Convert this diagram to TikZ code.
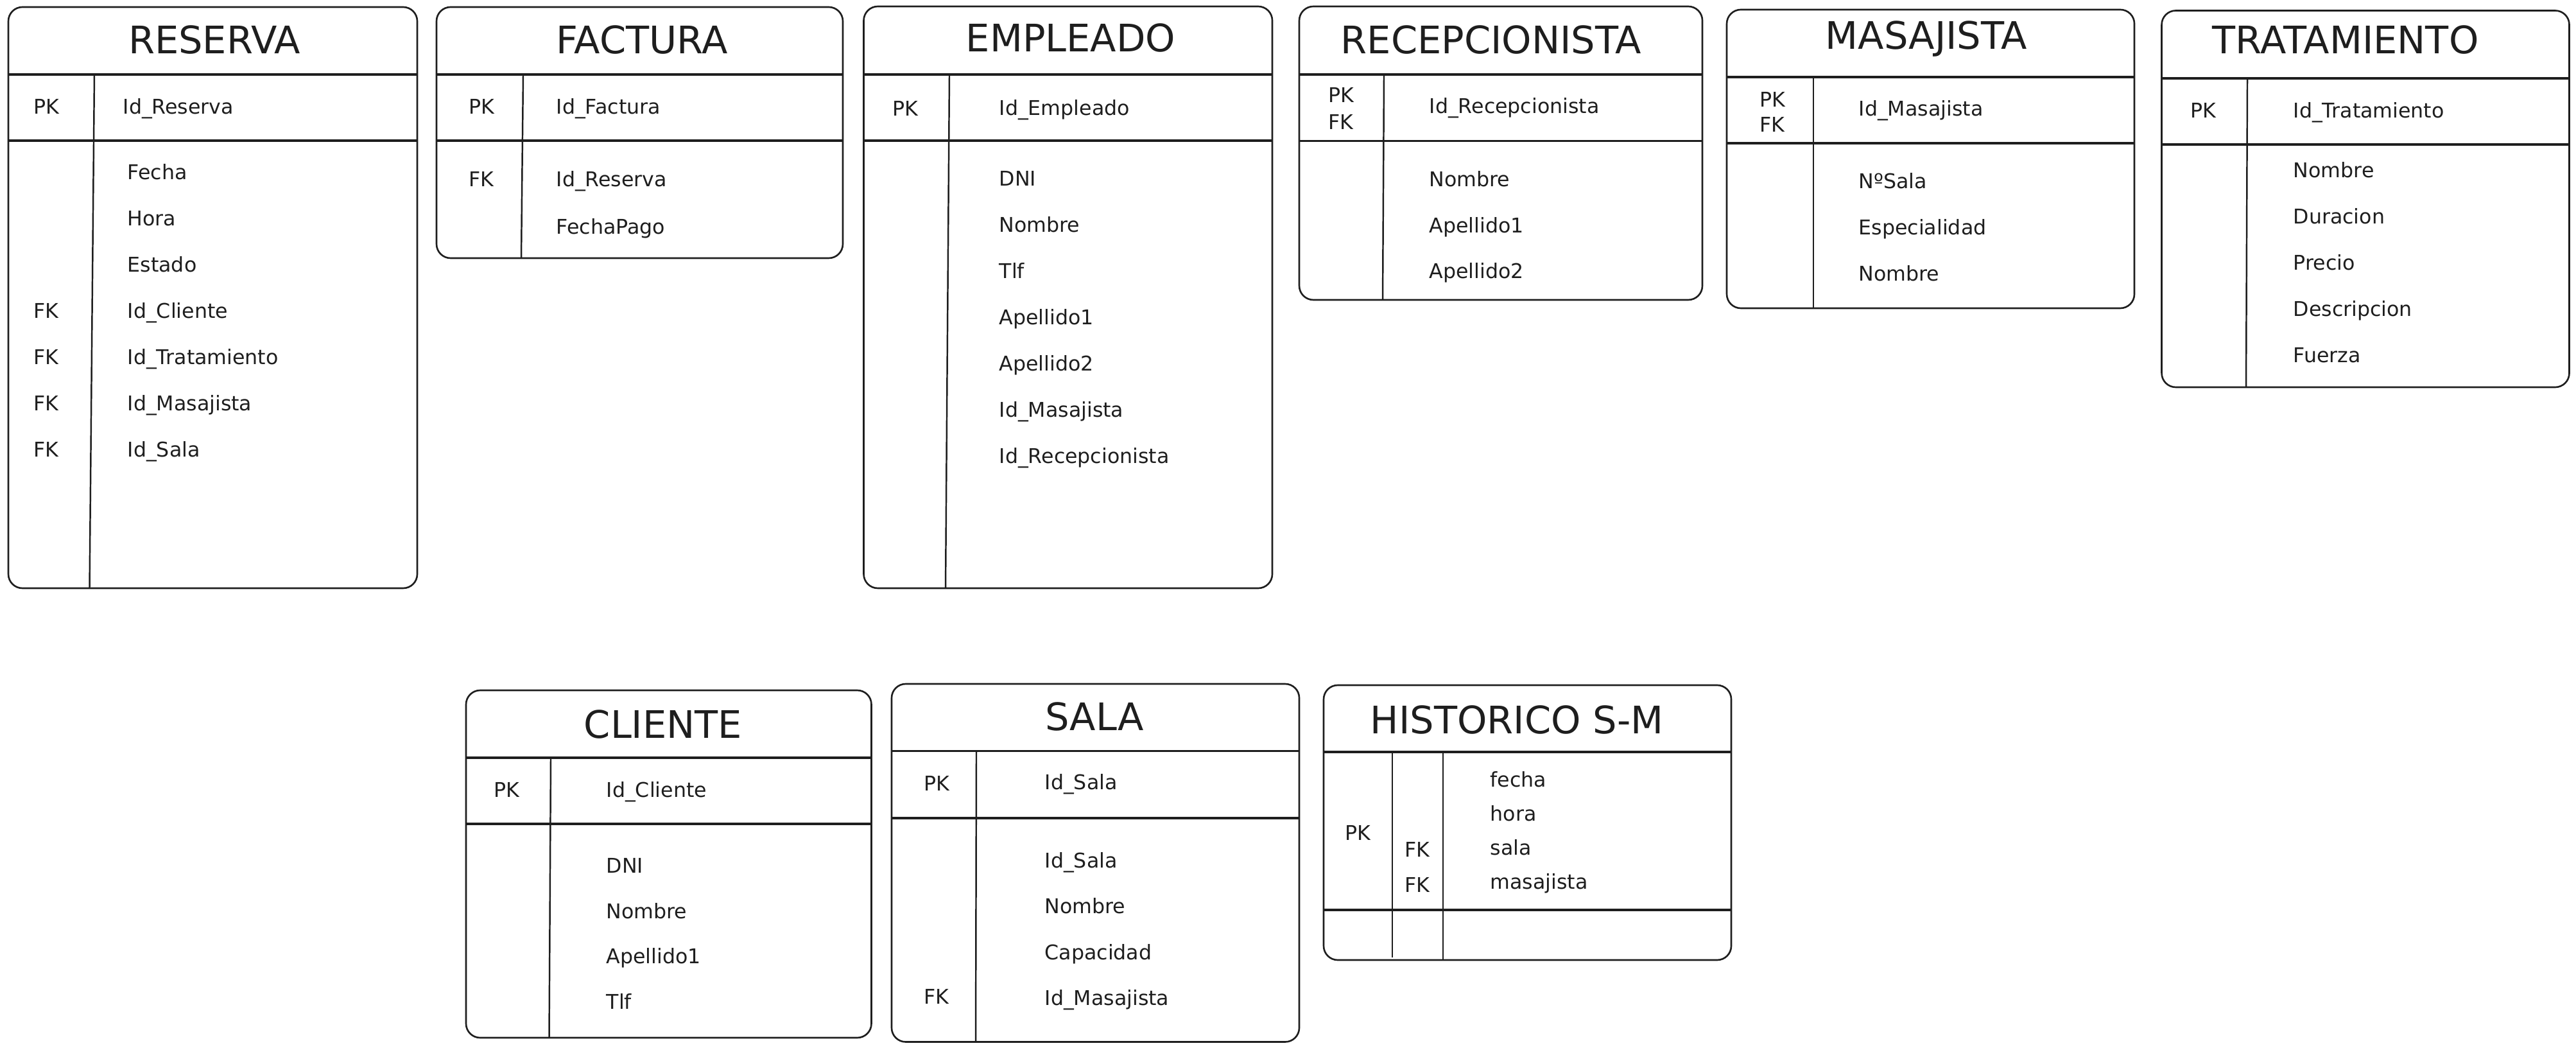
\documentclass[tikz,border=0pt]{standalone}
\usepackage{fontspec}
\setmainfont{DejaVu Sans}
\definecolor{tinta}{HTML}{1E1E1E}

\begin{document}
\begin{tikzpicture}[
  tabla/.style={draw=tinta, line width=0.75pt, rectangle, rounded corners=0.22cm, inner sep=0pt},
  titulo/.style={text=tinta, font=\fontsize{16.8}{20}\selectfont},
  clave/.style={text=tinta, font=\fontsize{9}{20.5}\selectfont, align=left, anchor=base west, inner sep=0pt},
  sep/.style={draw=tinta, line width=1.1pt},
  div/.style={draw=tinta, line width=0.7pt}
]
\useasboundingbox (0,0) rectangle (40.13,-16.32);

% tabla RESERVA
\node[tabla, minimum width=6.37cm, minimum height=9.05cm] (reserva) at (3.315,-4.635) {};
\node[titulo] (reservaTit) at (3.34,-0.62) {RESERVA};
\draw[sep] (0.13,-1.16) -- (6.50,-1.16);
\draw[sep] (0.13,-2.19) -- (6.50,-2.19);
\draw[div] (1.47,-1.16) -- (1.395,-9.16);
\node[clave] (reservaPK) at (0.52,-1.775) {PK};
\node[clave] (reservaId) at (1.91,-1.775) {Id\_Reserva};
% los nodos de varias lineas se anclan en la ultima linea
\node[clave] (reservaFK) at (0.52,-7.115) {FK \\ FK \\ FK \\ FK};
\node[clave] (reservaCampos) at (1.98,-7.115) {
Fecha \\
Hora \\
Estado \\
Id\_Cliente \\
Id\_Tratamiento \\
Id\_Masajista \\
Id\_Sala
};

% tabla FACTURA
\node[tabla, minimum width=6.33cm, minimum height=3.91cm] (factura) at (9.965,-2.065) {};
\node[titulo] (facturaTit) at (10.00,-0.62) {FACTURA};
\draw[sep] (6.80,-1.16) -- (13.13,-1.16);
\draw[sep] (6.80,-2.19) -- (13.13,-2.19);
\draw[div] (8.15,-1.16) -- (8.12,-4.02);
\node[clave] (facturaPK) at (7.30,-1.775) {PK};
\node[clave] (facturaId) at (8.66,-1.775) {Id\_Factura};
\node[clave] (facturaFK) at (7.30,-2.905) {FK};
\node[clave, font=\fontsize{9}{21}\selectfont] (facturaCampos) at (8.66,-3.645) {
Id\_Reserva \\
FechaPago
};

% tabla EMPLEADO
\node[tabla, minimum width=6.365cm, minimum height=9.06cm] (empleado) at (16.6375,-4.63) {};
\node[titulo] (empleadoTit) at (16.68,-0.59) {EMPLEADO};
\draw[sep] (13.455,-1.16) -- (19.82,-1.16);
\draw[sep] (13.455,-2.19) -- (19.82,-2.19);
\draw[div] (14.79,-1.16) -- (14.73,-9.16);
\node[clave] (empleadoPK) at (13.90,-1.805) {PK};
\node[clave] (empleadoId) at (15.56,-1.795) {Id\_Empleado};
\node[clave] (empleadoCampos) at (15.56,-7.215) {
DNI \\
Nombre \\
Tlf \\
Apellido1 \\
Apellido2 \\
Id\_Masajista \\
Id\_Recepcionista
};

% tabla RECEPCIONISTA
\node[tabla, minimum width=6.28cm, minimum height=4.57cm] (recepcionista) at (23.38,-2.385) {};
\node[titulo] (recepcionistaTit) at (23.23,-0.62) {RECEPCIONISTA};
\draw[sep] (20.24,-1.16) -- (26.52,-1.16);
\draw[sep] (20.24,-2.195) -- (26.52,-2.195);
\draw[div] (21.56,-1.16) -- (21.54,-4.67);
\node[clave, font=\fontsize{9}{12}\selectfont] (recepcionistaPK) at (20.69,-2.015) {PK \\ FK};
\node[clave] (recepcionistaId) at (22.26,-1.765) {Id\_Recepcionista};
\node[clave, font=\fontsize{9}{20.3}\selectfont] (recepcionistaCampos) at (22.26,-4.335) {
Nombre \\
Apellido1 \\
Apellido2
};

% tabla MASAJISTA
\node[tabla, minimum width=6.35cm, minimum height=4.65cm] (masajista) at (30.075,-2.475) {};
\node[titulo] (masajistaTit) at (30.01,-0.61) {MASAJISTA};
\draw[sep] (26.90,-1.20) -- (33.25,-1.20);
\draw[sep] (26.90,-2.23) -- (33.25,-2.23);
\draw[div] (28.25,-1.20) -- (28.25,-4.80);
\node[clave, font=\fontsize{9}{11.1}\selectfont] (masajistaPK) at (27.41,-2.055) {PK \\ FK};
\node[clave] (masajistaId) at (28.95,-1.805) {Id\_Masajista};
\node[clave] (masajistaCampos) at (28.95,-4.375) {
NºSala \\
Especialidad \\
Nombre
};

% tabla TRATAMIENTO
\node[tabla, minimum width=6.35cm, minimum height=5.865cm] (tratamiento) at (36.85,-3.0975) {};
\node[titulo] (tratamientoTit) at (36.54,-0.62) {TRATAMIENTO};
\draw[sep] (33.675,-1.22) -- (40.025,-1.22);
\draw[sep] (33.675,-2.25) -- (40.025,-2.25);
\draw[div] (35.01,-1.22) -- (34.99,-6.03);
\node[clave] (tratamientoPK) at (34.12,-1.835) {PK};
\node[clave] (tratamientoId) at (35.72,-1.835) {Id\_Tratamiento};
\node[clave] (tratamientoCampos) at (35.72,-5.645) {
Nombre \\
Duracion \\
Precio \\
Descripcion \\
Fuerza
};

% tabla CLIENTE
\node[tabla, minimum width=6.315cm, minimum height=5.41cm] (cliente) at (10.4175,-13.455) {};
\node[titulo] (clienteTit) at (10.33,-11.28) {CLIENTE};
\draw[sep] (7.26,-11.80) -- (13.575,-11.80);
\draw[sep] (7.26,-12.83) -- (13.575,-12.83);
\draw[div] (8.58,-11.80) -- (8.555,-16.16);
\node[clave] (clientePK) at (7.69,-12.415) {PK};
\node[clave] (clienteId) at (9.44,-12.415) {Id\_Cliente};
\node[clave, font=\fontsize{9}{20.1}\selectfont] (clienteCampos) at (9.44,-15.715) {
DNI \\
Nombre \\
Apellido1 \\
Tlf
};

% tabla SALA
\node[tabla, minimum width=6.35cm, minimum height=5.575cm] (sala) at (17.065,-13.4375) {};
\node[titulo] (salaTit) at (17.05,-11.16) {SALA};
\draw[sep] (13.89,-11.695) -- (20.24,-11.695);
\draw[sep] (13.89,-12.74) -- (20.24,-12.74);
\draw[div] (15.21,-11.695) -- (15.20,-16.225);
\node[clave] (salaPK) at (14.39,-12.315) {PK};
\node[clave] (salaId) at (16.27,-12.295) {Id\_Sala};
\node[clave] (salaFK) at (14.39,-15.63) {FK};
\node[clave, font=\fontsize{9}{20.3}\selectfont] (salaCampos) at (16.27,-15.655) {
Id\_Sala \\
Nombre \\
Capacidad \\
Id\_Masajista
};

% tabla HISTORICO S-M
\node[tabla, minimum width=6.35cm, minimum height=4.28cm] (historico) at (23.795,-12.81) {};
\node[titulo] (historicoTit) at (23.63,-11.21) {HISTORICO S-M};
\draw[sep] (20.62,-11.71) -- (26.97,-11.71);
\draw[sep] (20.62,-14.17) -- (26.97,-14.17);
\draw[div] (21.69,-11.71) -- (21.69,-14.91);
\draw[div] (22.48,-11.71) -- (22.48,-14.95);
\node[clave] (historicoPK) at (20.95,-13.085) {PK};
\node[clave, font=\fontsize{9}{15.6}\selectfont] (historicoFK) at (21.88,-13.895) {FK \\ FK};
\node[clave, font=\fontsize{9}{15.1}\selectfont] (historicoCampos) at (23.21,-13.845) {
fecha \\
hora \\
sala \\
masajista
};
\end{tikzpicture}
\end{document}
